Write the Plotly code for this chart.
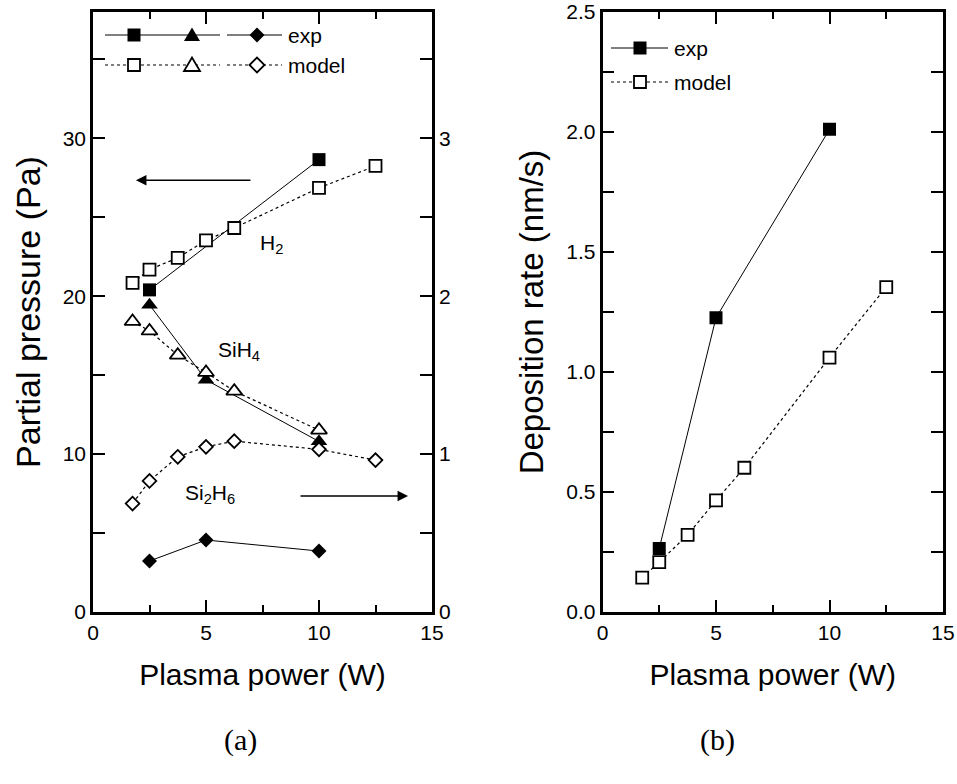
import plotly.graph_objects as go

# ---------------- data ----------------
# Panel (a): partial pressures vs plasma power
h2_exp_x = [2.5, 10]
h2_exp_y = [20.4, 28.65]
sih4_exp_x = [2.5, 5, 10]
sih4_exp_y = [19.45, 14.7, 10.8]
si2h6_exp_x = [2.5, 5, 10]
si2h6_exp_y = [0.323, 0.456, 0.386]          # right axis

model_x = [1.75, 2.5, 3.75, 5, 6.25, 10, 12.5]
h2_model_y = [20.84, 21.69, 22.43, 23.54, 24.32, 26.86, 28.25]
sih4_model_x = [1.75, 2.5, 3.75, 5, 6.25, 10]
sih4_model_y = [18.4, 17.8, 16.27, 15.17, 13.99, 11.52]
si2h6_model_y = [0.687, 0.83, 0.983, 1.046, 1.082, 1.03, 0.962]  # right axis

# Panel (b): deposition rate
dep_exp_x = [2.5, 5, 10]
dep_exp_y = [0.265, 1.226, 2.011]
dep_model_x = [1.75, 2.5, 3.75, 5, 6.25, 10, 12.5]
dep_model_y = [0.143, 0.208, 0.321, 0.465, 0.601, 1.06, 1.354]

x_ticks = [0, 5, 10, 15]
x_minor = [2.5, 7.5, 12.5]
left_y_ticks = [0, 10, 20, 30]
left_y_minor = [5, 15, 25, 35]
right_y_ticks = [0, 1, 2, 3]
right_y_minor = [0.5, 1.5, 2.5, 3.5]
dep_y_ticks = [0, 0.5, 1.0, 1.5, 2.0, 2.5]
dep_y_text = ["0.0", "0.5", "1.0", "1.5", "2.0", "2.5"]
dep_y_minor = [0.25, 0.75, 1.25, 1.75, 2.25]

# ---------------- styling ----------------
FONT = "Liberation Sans, Arial, Helvetica, sans-serif"
TICKF = 21
TITLEF = 30
W, H = 957, 784
ML, MR, MT, MB = 93, 14, 12, 172
PW = W - ML - MR
PH = H - MT - MB


def px(x):
    return (x - ML) / PW


def py(y):
    return (MT + PH - y) / PH


fig = go.Figure()

solid = dict(color="black", width=1)
dotted = dict(color="black", width=1.2, dash="dot")


def filled(sym, s):
    return dict(symbol=sym, size=s, color="black", line=dict(color="black", width=0))


def opened(sym, s):
    return dict(symbol=sym, size=s, color="white", line=dict(color="black", width=1.8))


# panel (a) exp
fig.add_trace(go.Scatter(x=h2_exp_x, y=h2_exp_y, mode="lines+markers", line=solid,
                         marker=filled("square", 13), xaxis="x", yaxis="y", name="H2 exp"))
fig.add_trace(go.Scatter(x=sih4_exp_x, y=sih4_exp_y, mode="lines+markers", line=solid,
                         marker=filled("triangle-up", 14.5), xaxis="x", yaxis="y", name="SiH4 exp"))
# panel (a) model
fig.add_trace(go.Scatter(x=model_x, y=h2_model_y, mode="lines+markers", line=dotted,
                         marker=opened("square", 12), xaxis="x", yaxis="y", name="H2 model"))
fig.add_trace(go.Scatter(x=sih4_model_x, y=sih4_model_y, mode="lines+markers", line=dotted,
                         marker=opened("triangle-up", 14), xaxis="x", yaxis="y", name="SiH4 model"))
# Si2H6 on right axis
fig.add_trace(go.Scatter(x=si2h6_exp_x, y=si2h6_exp_y, mode="lines+markers", line=solid,
                         marker=filled("diamond", 11.5), xaxis="x", yaxis="y3", name="Si2H6 exp"))
fig.add_trace(go.Scatter(x=model_x, y=si2h6_model_y, mode="lines+markers", line=dotted,
                         marker=opened("diamond", 10.5), xaxis="x", yaxis="y3", name="Si2H6 model"))

# panel (b)
fig.add_trace(go.Scatter(x=dep_exp_x, y=dep_exp_y, mode="lines+markers", line=solid,
                         marker=filled("square", 13), xaxis="x2", yaxis="y2", name="exp"))
fig.add_trace(go.Scatter(x=dep_model_x, y=dep_model_y, mode="lines+markers", line=dotted,
                         marker=opened("square", 12), xaxis="x2", yaxis="y2", name="model"))

axis_common = dict(showline=True, linewidth=2.5, linecolor="black", ticks="inside",
                   tickwidth=2, tickcolor="black", showgrid=False, zeroline=False,
                   automargin=False, ticklabeloverflow="allow",
                   tickfont=dict(family=FONT, size=TICKF, color="black"))


def minor_ticks(vals, length):
    return dict(tickmode="array", tickvals=vals, ticks="inside", ticklen=length,
                tickwidth=2, tickcolor="black", showgrid=False)


xaxis_common = dict(axis_common, range=[0, 15], tickmode="array", tickvals=x_ticks,
                    ticklen=12, mirror="ticks",
                    minor=minor_ticks(x_minor, 7),
                    title=dict(text="Plasma power (W)", font=dict(family=FONT, size=TITLEF, color="black"),
                               standoff=22))

fig.update_layout(
    width=W, height=H, autosize=False,
    margin=dict(l=ML, r=MR, t=MT, b=MB),
    paper_bgcolor="white", plot_bgcolor="white",
    showlegend=False,
    font=dict(family=FONT, color="black"),
    xaxis=dict(xaxis_common, domain=[0, (432 - ML) / PW], anchor="y"),
    yaxis=dict(axis_common, range=[0, 38], tickmode="array", tickvals=left_y_ticks,
               ticklen=12, anchor="x",
               minor=minor_ticks(left_y_minor, 12),
               title=dict(text="Partial pressure (Pa)", font=dict(family=FONT, size=34, color="black"),
                          standoff=12)),
    yaxis3=dict(axis_common, range=[0, 3.8], tickmode="array", tickvals=right_y_ticks,
                ticklen=12, overlaying="y", side="right", anchor="x",
                minor=minor_ticks(right_y_minor, 12)),
    xaxis2=dict(xaxis_common, domain=[(602.5 - ML) / PW, 1], anchor="y2"),
    yaxis2=dict(axis_common, range=[0, 2.5], tickmode="array", tickvals=dep_y_ticks,
                ticktext=dep_y_text, ticklen=12, mirror="ticks", anchor="x2",
                minor=minor_ticks(dep_y_minor, 12),
                title=dict(text="Deposition rate (nm/s)", font=dict(family=FONT, size=33, color="black"),
                           standoff=13)),
)

shapes = []
annotations = []


def hline(x0, x1, y, dash=None):
    d = dict(type="line", xref="paper", yref="paper", x0=px(x0), x1=px(x1), y0=py(y), y1=py(y),
             line=dict(color="black", width=1.2 if dash else 1))
    if dash:
        d["line"]["dash"] = dash
    shapes.append(d)


def square(cx, cy, s, fill):
    shapes.append(dict(type="rect", xref="paper", yref="paper",
                       x0=px(cx - s / 2), x1=px(cx + s / 2), y0=py(cy + s / 2), y1=py(cy - s / 2),
                       fillcolor="black" if fill else "white",
                       line=dict(color="black", width=0 if fill else 1.8)))


def poly(pts, fill):
    path = "M " + " L ".join(f"{px(a):.5f},{py(b):.5f}" for a, b in pts) + " Z"
    shapes.append(dict(type="path", xref="paper", yref="paper", path=path,
                       fillcolor="black" if fill else "white",
                       line=dict(color="black", width=0 if fill else 1.8)))


def tri(cx, cy, fill):
    poly([(cx - 8, cy + 6), (cx + 8, cy + 6), (cx, cy - 7.5)], fill)


def diamond(cx, cy, fill):
    poly([(cx - 7.5, cy), (cx, cy - 7.5), (cx + 7.5, cy), (cx, cy + 7.5)], fill)


def label(x, y, text, size=TICKF, anchor="left"):
    annotations.append(dict(xref="paper", yref="paper", x=px(x), y=py(y), text=text,
                            showarrow=False, xanchor=anchor, yanchor="middle",
                            font=dict(family=FONT, size=size, color="black")))


# legend panel (a)
for yrow, fill, dash, txt in [(35, True, None, "exp"), (65, False, "dot", "model")]:
    hline(105, 220, yrow, dash)
    hline(227, 282, yrow, dash)
    square(134, yrow, 13 if fill else 12, fill)
    tri(192, yrow, fill)
    diamond(257, yrow, fill)
    label(286, yrow, txt)

# legend panel (b)
for yrow, fill, dash, txt in [(48, True, None, "exp"), (82, False, "dot", "model")]:
    hline(611, 668, yrow, dash)
    square(640, yrow, 13 if fill else 12, fill)
    label(672, yrow, txt)

# species labels (data coordinates of panel a)
annotations.append(dict(x=7.3, y=23.3, xref="x", yref="y", text="H<sub>2</sub>", showarrow=False,
                        xanchor="left", yanchor="middle", font=dict(family=FONT, size=TICKF, color="black")))
annotations.append(dict(x=5.44, y=16.5, xref="x", yref="y", text="SiH<sub>4</sub>", showarrow=False,
                        xanchor="left", yanchor="middle", font=dict(family=FONT, size=TICKF, color="black")))
annotations.append(dict(x=3.98, y=7.45, xref="x", yref="y", text="Si<sub>2</sub>H<sub>6</sub>", showarrow=False,
                        xanchor="left", yanchor="middle", font=dict(family=FONT, size=TICKF, color="black")))
# arrows indicating axes
annotations.append(dict(x=1.9, y=27.34, xref="x", yref="y", ax=116, ay=0, text="", showarrow=True,
                        arrowhead=2, arrowsize=1.4, arrowwidth=1.5, arrowcolor="black"))
annotations.append(dict(x=13.94, y=7.34, xref="x", yref="y", ax=-109, ay=0, text="", showarrow=True,
                        arrowhead=2, arrowsize=1.4, arrowwidth=1.5, arrowcolor="black"))

# panel captions
SERIF = "Liberation Serif, Times New Roman, serif"
annotations.append(dict(xref="paper", yref="paper", x=px(240), y=py(740), text="(a)", showarrow=False,
                        xanchor="center", yanchor="middle", font=dict(family=SERIF, size=30, color="black")))
annotations.append(dict(xref="paper", yref="paper", x=px(717), y=py(740), text="(b)", showarrow=False,
                        xanchor="center", yanchor="middle", font=dict(family=SERIF, size=30, color="black")))

fig.update_layout(shapes=shapes, annotations=annotations)
fig.write_html("out.html", config={"displayModeBar": False},
               post_script="document.body.style.margin='0';document.body.style.overflow='hidden';")
